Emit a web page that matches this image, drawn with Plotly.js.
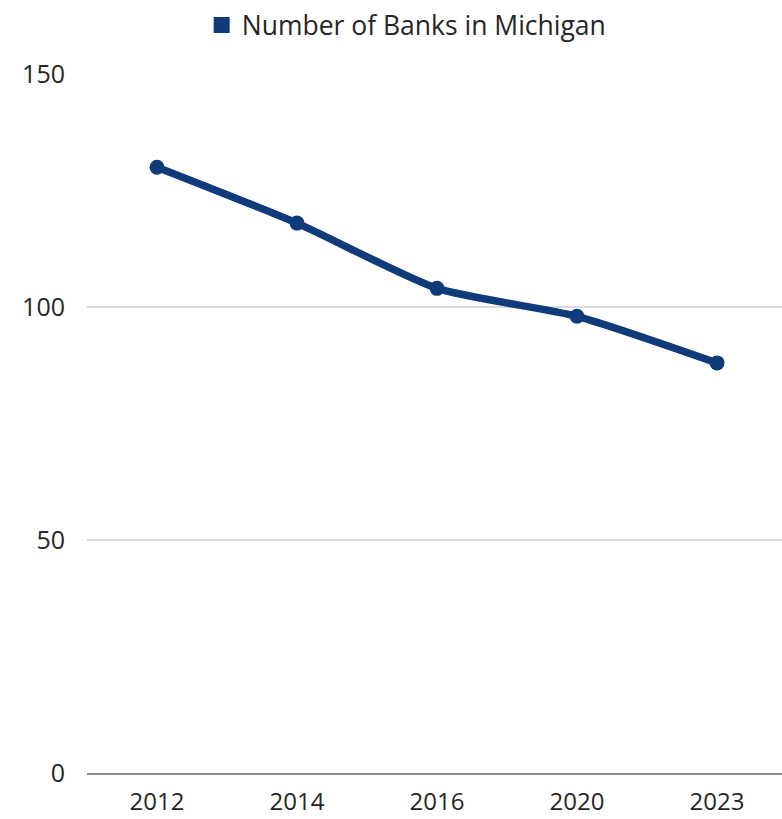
<!DOCTYPE html>
<html>
<head>
<meta charset="utf-8">
<script src="https://cdn.plot.ly/plotly-3.0.1.min.js"></script>
<style>html,body{margin:0;padding:0;background:#fff;}#chart{width:782px;height:819px;}</style>
</head>
<body>
<div id="chart"></div>
<script>
const years = ["2012", "2014", "2016", "2020", "2023"];
const banks = [130, 118, 104, 98, 88];
const seriesName = "Number of Banks in Michigan";
const yTicks = [0, 50, 100, 150];

const color = "#0f3b7a";
const textColor = "#262626";
const traces = [
  {
    x: years, y: banks, type: "scatter", mode: "lines+markers",
    line: {color: color, width: 7.5, shape: "spline", smoothing: 0.6},
    marker: {color: color, size: 15},
    showlegend: false, hoverinfo: "x+y"
  },
  {
    x: [null], y: [null], type: "scatter", mode: "markers", name: seriesName,
    marker: {color: color, size: 17, symbol: "square"},
    showlegend: true
  }
];

const layout = {
  width: 782, height: 819,
  margin: {l: 87, r: 0, t: 74, b: 46},
  paper_bgcolor: "#ffffff", plot_bgcolor: "#ffffff",
  font: {family: "Open Sans, Noto Sans, sans-serif", color: textColor, size: 25},
  showlegend: true,
  legend: {orientation: "h", x: 0.165, xanchor: "left", y: 1.104, yanchor: "top",
           yref: "paper", font: {size: 26.5, color: textColor}, itemwidth: 30},
  xaxis: {
    type: "category", range: [-0.5, 4.464],
    showgrid: false, zeroline: false,
    showline: true, linecolor: "#8a8a8a", linewidth: 2,
    ticks: "", ticklabelstandoff: 6,
    tickfont: {size: 24, color: textColor}
  },
  yaxis: {
    range: [0, 150], tickvals: yTicks, ticktext: yTicks.map(String),
    showgrid: true, gridcolor: "#d8dce2", gridwidth: 1.5,
    zeroline: false, showline: false, ticks: "",
    ticklabelstandoff: 21,
    tickfont: {size: 25, color: textColor}
  }
};

Plotly.newPlot("chart", traces, layout, {displayModeBar: false, staticPlot: true});
</script>
</body>
</html>
